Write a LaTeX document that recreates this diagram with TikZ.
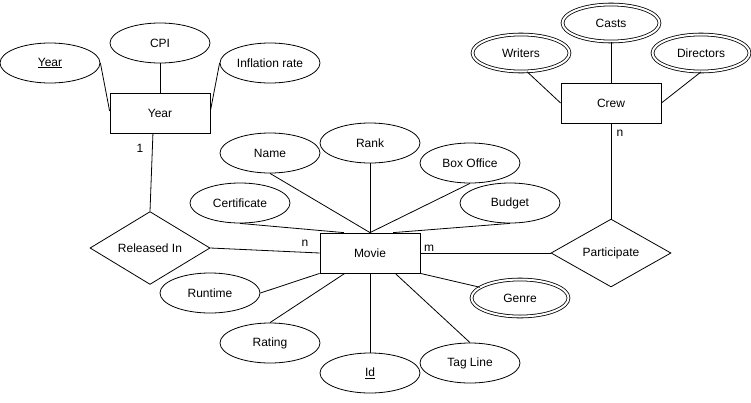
\documentclass[tikz,border=0pt]{standalone}
\usepackage{fontspec}
\setmainfont{Liberation Sans}
\usetikzlibrary{shapes.geometric,calc}
\begin{document}
\begin{tikzpicture}[x=1pt,y=-1pt,line width=0.8pt,
  every node/.style={font=\fontsize{12}{14}\selectfont, inner sep=0pt},
  attr/.style={ellipse, draw, minimum width=100pt, minimum height=40pt},
  dblattr/.style={ellipse, draw, double, double distance=2pt, minimum width=97pt, minimum height=37pt},
  entity/.style={rectangle, draw, minimum width=100pt, minimum height=40pt},
  rel/.style={diamond, draw, minimum width=120pt, minimum height=60pt},
  card/.style={font=\fontsize{12}{14}\selectfont}]
\useasboundingbox (0,0) rectangle (751,402);
\fill[white] (0,0) rectangle (751,402);

% Year entity and attributes
\node[entity] (year) at (160,113) {Year};
\node[attr] (yearattr) at (50,63) {\underline{Year}};
\node[attr] (cpi) at (160,43) {CPI};
\node[attr] (infl) at (270,63) {Inflation rate};

% Crew entity and attributes
\node[entity] (crew) at (611,103) {Crew};
\node[dblattr] (writers) at (521,53) {Writers};
\node[dblattr] (casts) at (611,23) {Casts};
\node[dblattr] (directors) at (701,53) {Directors};

% Movie entity
\node[entity] (movie) at (370,253) {Movie};
\node[attr] (name) at (270,153) {Name};
\node[attr] (rank) at (370,143) {Rank};
\node[attr] (box) at (470,163) {Box Office};
\node[attr] (cert) at (240,203) {Certificate};
\node[attr] (budget) at (510,203) {Budget};
\node[attr] (runtime) at (210,293) {Runtime};
\node[attr] (rating) at (270,343) {Rating};
\node[attr] (id) at (370,373) {\underline{Id}};
\node[attr] (tag) at (470,363) {Tag Line};
\node[dblattr] (genre) at (520,298) {Genre};

% Relationships
\node[rel] (released) at (150,248) {Released In};
\node[rel] (part) at (611,253) {Participate};

% Year connectors
\draw (yearattr.east) -- ($(year.north west)!0.45!(year.south west)$);
\draw (cpi.south) -- (year.north);
\draw (infl.west) -- ($(year.north east)!0.45!(year.south east)$);
\draw ($(year.south west)!0.43!(year.south east)$) -- (released.north);

% Crew connectors
\draw (writers.-72) -- (crew.west);
\draw (casts.south) -- (crew.north);
\draw (directors.south) -- (crew.east);
\draw (crew.south) -- (part.north);

% Movie connectors
\draw (released.east) -- (movie.west);
\draw (movie.east) -- (part.west);
\draw (name.south) -- (movie.north);
\draw (rank.south) -- (movie.north);
\draw (box.south) -- (movie.north);
\draw (cert.south) -- ($(movie.north west)!0.24!(movie.north east)$);
\draw (budget.south) -- ($(movie.north west)!0.73!(movie.north east)$);
\draw (runtime.east) -- (movie.south west);
\draw (rating.north) -- ($(movie.south west)!0.25!(movie.south east)$);
\draw (id.north) -- (movie.south);
\draw (tag.north) -- ($(movie.south west)!0.75!(movie.south east)$);
\draw (movie.south east) -- (genre.165);

% Cardinalities
\node[card] (c1) at (140,148) {1};
\node[card] (c2) at (305,243) {n};
\node[card] (c3) at (429,248) {m};
\node[card] (c4) at (620,133) {n};
\end{tikzpicture}
\end{document}
